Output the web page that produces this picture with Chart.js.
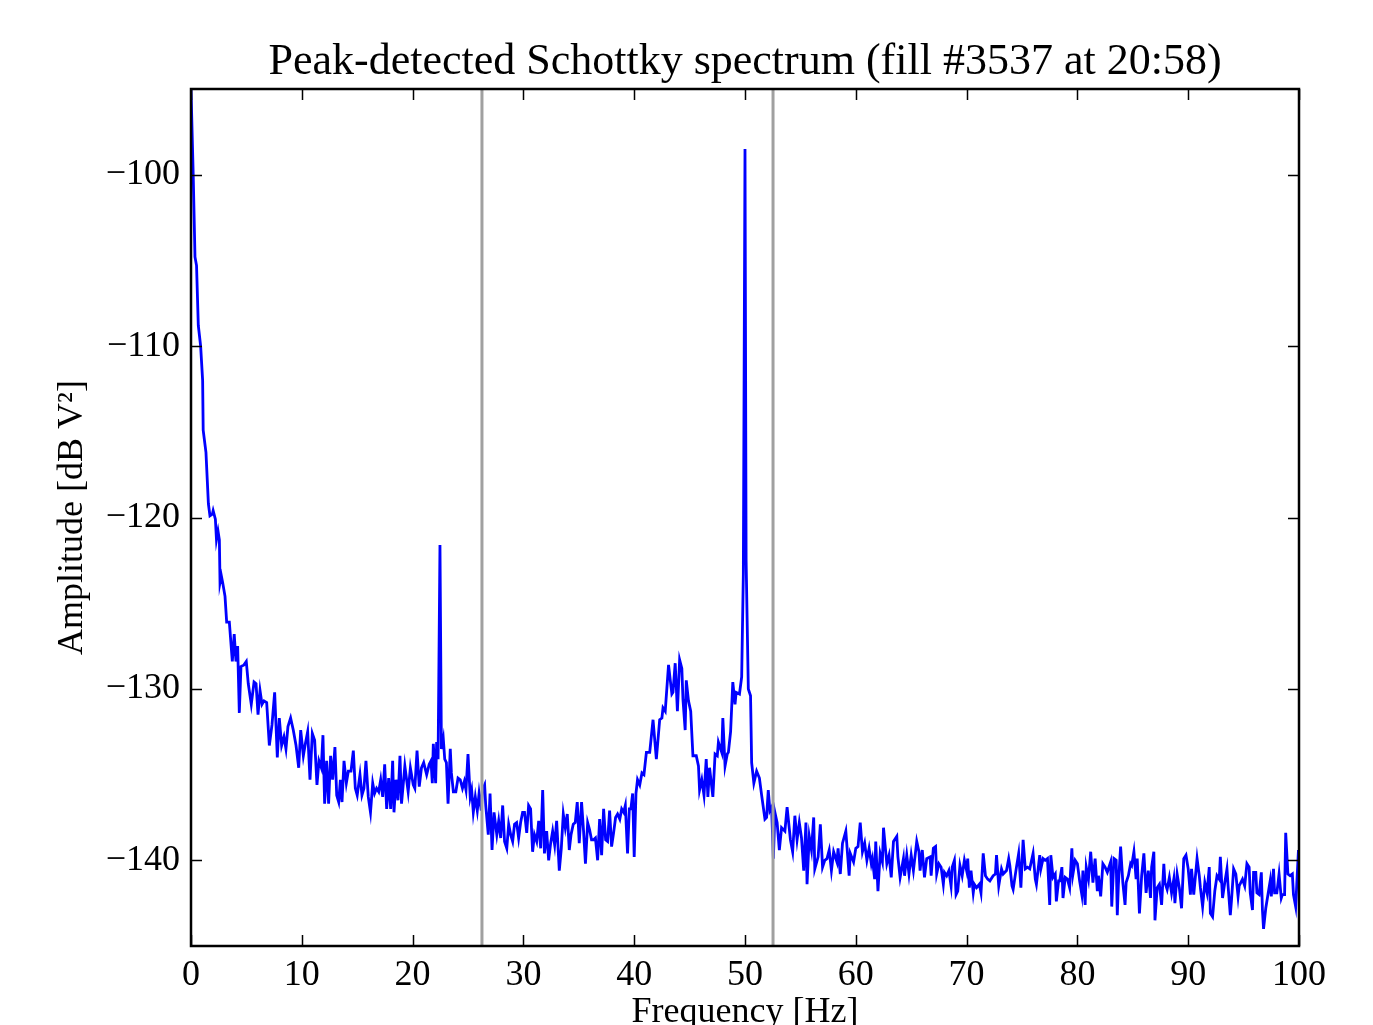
<!DOCTYPE html>
<html>
<head>
<meta charset="utf-8">
<title>Peak-detected Schottky spectrum</title>
<script src="https://cdn.jsdelivr.net/npm/chart.js@4.4.1/dist/chart.umd.min.js"></script>
<style>
	html, body { margin: 0; padding: 0; background: #fff; overflow: hidden; }
	#wrap { width: 1373px; height: 1025px; overflow: hidden; }
</style>
</head>
<body>
<div id="wrap"><canvas id="chart-schottky" width="1373" height="1034"></canvas></div>
<script>
	// spectrum (Hz, dB V^2)
	const freqHz = [
		0, 0.2, 0.36, 0.5, 0.66, 0.87, 1.05, 1.1, 1.35, 1.57, 1.71, 1.93, 2.0, 2.2, 2.3, 2.44, 2.56, 2.62, 2.74, 2.86,
		3.07, 3.22, 3.46, 3.73, 3.9, 4.06, 4.21, 4.36, 4.51, 4.78, 4.99, 5.17, 5.44, 5.69, 5.87, 6.05, 6.23, 6.41, 6.59, 6.83,
		7.07, 7.31, 7.55, 7.79, 7.97, 8.18, 8.39, 8.57, 8.75, 8.99, 9.23, 9.48, 9.72, 9.9, 10.14,
		10.32, 10.53, 10.74, 10.95, 11.16, 11.37, 11.55, 11.76, 11.91, 12.06, 12.24, 12.42, 12.6, 12.78, 12.99, 13.15, 13.33, 13.48, 13.63, 13.81,
		14.02, 14.2, 14.44, 14.65, 14.83, 15.0, 15.25, 15.43, 15.61, 15.79, 16.0, 16.2, 16.4, 16.57, 16.75, 16.94, 17.12, 17.3, 17.48, 17.66,
		17.84, 18.02, 18.2, 18.32, 18.5, 18.68, 18.86, 19.0, 19.3, 19.6, 19.8, 20.06, 20.2, 20.4, 20.6, 20.8, 21.0, 21.27, 21.5, 21.66,
		21.78, 21.87, 22.08, 22.17, 22.3, 22.47, 22.6, 22.77, 22.9, 23.05, 23.2, 23.4, 23.5, 23.68, 23.9, 24.1, 24.3, 24.5, 24.67, 24.82,
		25.0, 25.2, 25.33, 25.48, 25.66, 25.84, 26.0, 26.2, 26.3, 26.5, 26.6, 26.83, 26.99, 27.17, 27.35, 27.6, 27.77, 27.95, 28.13, 28.3,
		28.5, 28.67, 28.85, 29.03, 29.2, 29.39, 29.57, 29.75, 29.93, 30.1, 30.3, 30.47, 30.65, 30.83, 31.0, 31.2, 31.38, 31.56, 31.74, 31.9,
		32.1, 32.28, 32.46, 32.64, 32.82, 33.0, 33.24, 33.42, 33.6, 33.78, 33.96, 34.14, 34.3, 34.5, 34.68, 34.86, 35.04, 35.25, 35.43, 35.6,
		35.8, 35.97, 36.15, 36.33, 36.5, 36.7, 36.88, 37.06, 37.24, 37.42, 37.6, 37.78, 37.96, 38.14, 38.32, 38.5, 38.7, 38.87, 39.05, 39.2,
		39.4, 39.56, 39.7, 39.86, 40.0, 40.16, 40.3, 40.5, 40.7, 40.88, 41.1, 41.4, 41.7, 42.0, 42.3, 42.5, 42.6, 42.8, 43.1, 43.4,
		43.5, 43.7, 43.9, 44.1, 44.3, 44.4, 44.6, 44.7, 44.9, 45.1, 45.3, 45.6, 45.8, 45.9, 46.1, 46.3, 46.5, 46.65, 46.8, 47.1,
		47.3, 47.5, 47.6, 47.9, 48.0, 48.2, 48.4, 48.5, 48.7, 48.9, 49.1, 49.2, 49.5, 49.7, 49.85, 50.0, 50.1, 50.3, 50.5, 50.6,
		50.8, 51.05, 51.3, 51.5, 51.8, 51.95, 52.1, 52.25, 52.4, 52.56, 52.7, 52.9, 53.1, 53.3, 53.6, 53.8, 54.1, 54.3, 54.5, 54.7,
		54.9, 55.1, 55.3, 55.5, 55.6, 55.8, 56.0, 56.2, 56.3, 56.6, 56.8, 57.0, 57.2, 57.4, 57.6, 57.8, 58.0, 58.3, 58.4, 58.6,
		58.8, 59.1, 59.4, 59.5, 59.8, 60.0, 60.2, 60.4, 60.6, 60.8, 61.0, 61.2, 61.4, 61.5, 61.7, 61.8, 62.0, 62.2, 62.4, 62.5,
		62.8, 63.0, 63.2, 63.4, 63.7, 63.8, 64.0, 64.3, 64.4, 64.6, 64.8, 65.0, 65.2, 65.5, 65.7, 65.8, 66.0, 66.2, 66.4, 66.7,
		66.8, 67.0, 67.2, 67.3, 67.5, 67.7, 67.9, 68.0, 68.2, 68.4, 68.6, 68.7, 68.9, 69.05, 69.2, 69.4, 69.6, 69.8, 70.0, 70.1,
		70.25, 70.4, 70.6, 70.7, 70.9, 71.15, 71.3, 71.5, 71.7, 71.9, 72.1, 72.4, 72.6, 72.7, 72.9, 73.15, 73.3, 73.6, 73.8, 73.9,
		74.1, 74.2, 74.5, 74.7, 74.9, 75.1, 75.3, 75.5, 75.7, 76.0, 76.2, 76.3, 76.6, 76.7, 76.9, 77.1, 77.3, 77.5, 77.6, 77.8,
		78.0, 78.1, 78.3, 78.4, 78.6, 78.7, 78.9, 79.1, 79.3, 79.5, 79.6, 79.8, 80.0, 80.2, 80.4, 80.5, 80.7, 80.8, 81.0, 81.2,
		81.4, 81.6, 81.8, 81.9, 82.1, 82.3, 82.5, 82.7, 83.0, 83.1, 83.3, 83.5, 83.6, 83.7, 83.9, 84.1, 84.3, 84.4, 84.6, 84.8,
		84.9, 85.1, 85.3, 85.4, 85.6, 85.8, 86.0, 86.2, 86.4, 86.6, 86.7, 86.9, 87.0, 87.2, 87.4, 87.6, 87.8, 87.9, 88.1, 88.3,
		88.5, 88.7, 88.8, 89.0, 89.2, 89.4, 89.6, 89.8, 90.0, 90.2, 90.3, 90.5, 90.8, 91.0, 91.1, 91.3, 91.5, 91.7, 91.9, 92.0,
		92.2, 92.4, 92.6, 92.8, 92.9, 93.1, 93.3, 93.5, 93.6, 93.8, 93.9, 94.1, 94.3, 94.5, 94.6, 94.9, 95.1, 95.3, 95.5, 95.6,
		95.8, 95.9, 96.1, 96.2, 96.4, 96.6, 96.7, 96.8, 97.0, 97.2, 97.4, 97.5, 97.7, 97.8, 98.0, 98.2, 98.4, 98.5, 98.7, 98.8,
		99.0, 99.2, 99.4, 99.5, 99.7, 99.8, 99.95
	];
	const ampDb = [
		-95, -100, -104.8, -105.3, -108.8, -110, -112, -114.9, -116.2, -119.2, -119.9, -119.8, -119.6, -120.1, -121.3, -120.8, -121.3, -123.8, -123.4, -123.8,
		-124.6, -126.1, -126.1, -128.4, -126.8, -128.4, -127.5, -131.4, -128.7, -128.6, -128.4, -129.7, -130.9, -129.6, -129.7, -131.5, -130.1, -130.9, -130.7, -130.8,
		-133.3, -132.1, -130.2, -134.0, -131.7, -133.3, -132.8, -133.5, -132.2, -131.7, -132.4, -133.3, -134.6, -132.4, -133.9,
		-133.2, -132.5, -135.3, -132.6, -133.0, -135.6, -134.2, -134.6, -132.7, -136.7, -134.2, -136.7, -133.9, -135.3, -133.4, -136.2, -136.6, -135.3, -136.6, -134.2,
		-135.5, -134.8, -134.8, -133.6, -135.8, -136.2, -135.0, -136.2, -135.8, -134.2, -136.3, -137.2, -135.5, -136.1, -135.8, -136.0, -135.3, -136.3, -134.4, -137.0,
		-135.2, -137.0, -134.2, -137.2, -135.3, -136.5, -133.9, -136.7, -134.5, -136.0, -134.6, -135.6, -135.8, -133.6, -135.7, -134.6, -134.3, -135.0, -134.4, -134.2,
		-135.5, -133.2, -135.5, -133.1, -134.1, -121.6, -133.5, -132.9, -134.1, -134.3, -136.7, -133.5, -134.9, -136.0, -136.0, -135.2, -135.3, -135.8, -135.4, -135.9,
		-133.8, -136.3, -135.9, -137.2, -136.3, -137.1, -136.1, -137.1, -135.9, -135.6, -136.8, -138.5, -136.1, -139.4, -137.2, -138.5, -137.7, -138.7, -136.8, -138.9,
		-139.3, -137.9, -138.5, -138.9, -137.9, -137.8, -138.7, -137.8, -137.2, -137.2, -138.4, -136.8, -137.0, -139.5, -138.5, -138.9, -137.7, -139.3, -135.9, -139.6,
		-138.3, -140.0, -139.0, -138.3, -139.1, -137.7, -140.6, -139.3, -137.3, -138.1, -137.3, -139.4, -138.5, -137.9, -137.8, -136.6, -139.0, -136.6, -138.3, -140.2,
		-137.8, -138.2, -138.8, -138.8, -138.7, -140.0, -137.6, -139.7, -137.0, -138.8, -138.9, -137.1, -139.2, -138.4, -137.5, -137.3, -137.6, -137.0, -137.2, -136.8,
		-139.6, -137.0, -137.0, -136.1, -139.8, -136.1, -135.3, -135.6, -134.9, -135.0, -133.7, -133.7, -131.8, -134.1, -131.8, -131.7, -131.1, -131.3, -128.6, -130.3,
		-130.2, -128.5, -131.3, -128.3, -128.8, -130.6, -132.4, -129.5, -130.7, -131.3, -133.9, -133.9, -134.5, -135.9, -135.3, -136.2, -134.1, -136.3, -134.6, -136.3,
		-133.8, -133.9, -133.1, -133.7, -131.7, -134.5, -133.8, -133.7, -132.5, -129.6, -130.9, -130.2, -130.3, -129.3, -123.3, -98.5, -122.5, -130.0, -130.4, -134.3,
		-135.5, -134.8, -135.2, -136.2, -137.6, -137.5, -135.9, -137.1, -136.9, -139.9, -137.2, -137.8, -139.4, -138.1, -138.3, -136.9, -138.8, -139.5, -137.4, -138.8,
		-137.8, -138.7, -140.6, -137.8, -141.4, -138.6, -139.4, -137.5, -140.5, -139.8, -137.9, -140.4, -140.0, -139.9, -139.4, -140.6, -139.5, -140.1, -139.3, -140.8,
		-139.0, -138.3, -140.9, -139.6, -140.1, -139.3, -139.2, -137.8, -139.5, -139.0, -140.0, -139.3, -140.2, -139.9, -141.1, -138.9, -141.8, -139.6, -140.1, -138.1,
		-140.2, -139.7, -141.0, -138.9, -138.6, -139.8, -141.0, -139.9, -140.9, -139.7, -140.8, -139.7, -140.6, -138.9, -139.5, -140.6, -139.4, -141.0, -139.9, -139.8,
		-140.9, -139.3, -139.2, -140.8, -140.2, -140.4, -141.4, -140.7, -140.9, -140.6, -141.5, -140.4, -140.0, -142.0, -141.8, -140.3, -140.9, -140.0, -140.6, -139.9,
		-141.6, -140.6, -141.9, -141.4, -141.6, -141.4, -141.9, -139.6, -140.9, -141.1, -141.2, -140.9, -140.8, -139.7, -141.5, -140.5, -140.8, -140.6, -139.9, -140.3,
		-141.5, -141.7, -140.4, -139.6, -141.6, -138.8, -140.5, -140.4, -140.5, -139.6, -141.1, -141.4, -139.7, -140.5, -139.9, -140.0, -139.9, -142.6, -139.7, -141.0,
		-140.8, -142.4, -141.2, -141.2, -140.4, -142.2, -141.0, -141.1, -141.6, -139.3, -140.8, -140.0, -140.2, -141.2, -142.0, -140.6, -142.6, -140.4, -141.1, -139.5,
		-141.3, -139.9, -141.8, -140.9, -142.1, -140.2, -140.4, -140.7, -140.1, -142.7, -139.9, -140.0, -143.2, -141.4, -139.2, -141.3, -142.6, -141.3, -140.9, -140.2,
		-140.3, -139.5, -141.1, -139.9, -143.1, -140.9, -139.6, -141.9, -140.6, -142.2, -140.4, -139.5, -143.5, -141.6, -141.4, -142.6, -140.2, -141.3, -141.7, -141.0,
		-141.9, -141.1, -142.5, -140.8, -141.6, -142.8, -139.9, -139.7, -140.5, -142.0, -140.5, -142.0, -139.9, -140.9, -141.6, -142.7, -141.3, -141.9, -140.4, -143.1,
		-143.3, -141.8, -140.9, -141.1, -139.8, -142.2, -141.3, -140.5, -141.5, -143.2, -142.4, -140.5, -140.8, -142.1, -141.5, -141.1, -141.5, -140.2, -140.4, -141.9,
		-142.9, -140.7, -140.7, -141.9, -142.0, -140.7, -142.9, -144.0, -142.8, -142.0, -141.2, -142.1, -140.5, -141.9, -141.9, -140.8, -142.2, -142.0, -142.0, -138.4,
		-140.8, -140.9, -140.8, -142.0, -142.7, -141.4, -139.4
	];

	// vertical markers (revolution frequency lines)
	const markerHz = [26.26, 52.53];

	const xTicks = [0, 10, 20, 30, 40, 50, 60, 70, 80, 90, 100];
	const yTicks = [-140, -130, -120, -110, -100];
	const xRange = [0, 100];
	const yRange = [-145, -95];

	const serif = '"Liberation Serif", "Times New Roman", serif';

	let spectrum = freqHz.map((f, i) => ({ x: f, y: ampDb[i] }));

	let markerSets = markerHz.map(f => ({
		data: [{ x: f, y: yRange[0] }, { x: f, y: yRange[1] }],
		borderColor: '#a0a0a0',
		borderWidth: 3,
		pointRadius: 0,
		order: 0
	}));

	// frame + inward ticks on all four sides, like matplotlib classic
	const frameTicks = {
		id: 'frameTicks',
		afterDatasetsDraw(chart) {
			const { ctx, chartArea: a, scales } = chart;
			ctx.save();
			ctx.strokeStyle = '#000';
			ctx.lineWidth = 1.5;
			ctx.beginPath();
			xTicks.forEach(v => {
				let px = Math.round(scales.x.getPixelForValue(v)) + 0.5;
				ctx.moveTo(px, a.bottom); ctx.lineTo(px, a.bottom - 11);
				ctx.moveTo(px, a.top); ctx.lineTo(px, a.top + 11);
			});
			yTicks.forEach(v => {
				let py = Math.round(scales.y.getPixelForValue(v)) + 0.5;
				ctx.moveTo(a.left, py); ctx.lineTo(a.left + 11, py);
				ctx.moveTo(a.right, py); ctx.lineTo(a.right - 11, py);
			});
			ctx.stroke();
			ctx.lineWidth = 2.5;
			ctx.strokeRect(a.left, a.top, a.right - a.left, a.bottom - a.top);
			ctx.restore();
		}
	};

	const minus = v => String(v).replace('-', '\u2212');

	var config = {
		type: 'line',
		data: {
			datasets: markerSets.concat([{
				data: spectrum,
				borderColor: '#0000ff',
				borderWidth: 2.8,
				pointRadius: 0,
				tension: 0,
				order: 1
			}])
		},
		options: {
			responsive: false,
			animation: false,
			events: [],
			layout: { padding: { left: 0, right: 74, top: 0, bottom: 0 } },
			scales: {
				x: {
					type: 'linear',
					min: xRange[0],
					max: xRange[1],
					afterBuildTicks: s => { s.ticks = xTicks.map(v => ({ value: v })); },
					afterFit: s => { s.height = 88; },
					grid: { display: false, drawTicks: false },
					border: { display: false },
					ticks: {
						color: '#000',
						padding: 8,
						maxRotation: 0,
						font: { family: serif, size: 36 },
						callback: v => minus(v)
					},
					title: {
						display: true,
						text: 'Frequency [Hz]',
						color: '#000',
						padding: { top: 0, bottom: 0 },
						font: { family: serif, size: 36 }
					}
				},
				y: {
					min: yRange[0],
					max: yRange[1],
					afterBuildTicks: s => { s.ticks = yTicks.map(v => ({ value: v })); },
					afterFit: s => { s.width = 191; },
					grid: { display: false, drawTicks: false },
					border: { display: false },
					ticks: {
						color: '#000',
						padding: 11,
						font: { family: serif, size: 36 },
						callback: v => minus(v)
					},
					title: {
						display: true,
						text: 'Amplitude [dB V\u00b2]',
						color: '#000',
						padding: { top: 51, bottom: 0 },
						font: { family: serif, size: 36 }
					}
				}
			},
			plugins: {
				legend: { display: false },
				tooltip: { enabled: false },
				title: {
					display: true,
					fullSize: false,
					text: 'Peak-detected Schottky spectrum (fill #3537 at 20:58)',
					color: '#000',
					padding: { top: 36, bottom: 0.2 },
					font: { family: serif, size: 44, weight: 'normal' }
				}
			}
		},
		plugins: [frameTicks]
	};

	var ctx = document.getElementById('chart-schottky').getContext('2d');
	window.chartSchottky = new Chart(ctx, config);
</script>
</body>
</html>
